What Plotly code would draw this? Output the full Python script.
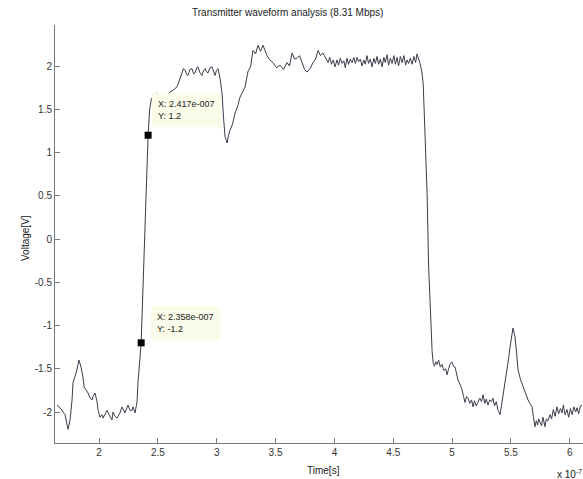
import plotly.graph_objects as go

# Time in units of 1e-7 s, voltage in V
t = [1.643, 1.669, 1.694, 1.711, 1.737, 1.754, 1.771, 1.779, 1.805, 1.822, 1.830, 1.847, 1.864, 1.873,
     1.890, 1.907, 1.924, 1.941, 1.949, 1.966, 1.983, 1.992, 2.008, 2.025, 2.034, 2.051, 2.068, 2.085,
     2.110, 2.119, 2.136, 2.153, 2.178, 2.195, 2.221, 2.246, 2.263, 2.280, 2.289, 2.306, 2.323, 2.331,
     2.358, 2.417, 2.430, 2.445, 2.470, 2.493, 2.515, 2.540, 2.560, 2.578, 2.603, 2.629, 2.663, 2.688,
     2.705, 2.718, 2.731, 2.745, 2.756, 2.772, 2.790, 2.803, 2.816, 2.830, 2.841, 2.858, 2.875, 2.888,
     2.901, 2.914, 2.926, 2.943, 2.960, 2.973, 2.986, 2.998, 3.011, 3.028, 3.045, 3.058, 3.071, 3.080,
     3.088, 3.100, 3.113, 3.135, 3.155, 3.175, 3.198, 3.220, 3.240, 3.266, 3.288, 3.308, 3.330, 3.351,
     3.372, 3.393, 3.410, 3.427, 3.452, 3.478, 3.508, 3.538, 3.568, 3.597, 3.618, 3.640, 3.662, 3.682,
     3.704, 3.725, 3.746, 3.767, 3.793, 3.818, 3.840, 3.861, 3.882, 3.903, 3.925, 3.946, 3.960, 3.975,
     3.990, 4.005, 4.022, 4.035, 4.050, 4.065, 4.080, 4.092, 4.107, 4.120, 4.135, 4.150, 4.165, 4.178,
     4.192, 4.205, 4.220, 4.235, 4.250, 4.262, 4.277, 4.290, 4.305, 4.320, 4.335, 4.348, 4.362, 4.375,
     4.390, 4.405, 4.420, 4.432, 4.447, 4.460, 4.475, 4.490, 4.505, 4.518, 4.532, 4.545, 4.560, 4.575,
     4.590, 4.605, 4.617, 4.630, 4.645, 4.660, 4.675, 4.690, 4.702, 4.716, 4.728, 4.742, 4.754, 4.770,
     4.788, 4.800, 4.813, 4.822, 4.830, 4.839, 4.850, 4.862, 4.872, 4.885, 4.900, 4.914, 4.930, 4.945,
     4.957, 4.970, 4.985, 4.999, 5.012, 5.025, 5.040, 5.050, 5.067, 5.084, 5.097, 5.110, 5.122, 5.135,
     5.150, 5.165, 5.178, 5.190, 5.205, 5.220, 5.235, 5.250, 5.263, 5.278, 5.290, 5.305, 5.320, 5.335,
     5.347, 5.360, 5.375, 5.390, 5.407, 5.420, 5.432, 5.450, 5.466, 5.480, 5.492, 5.505, 5.517, 5.525,
     5.534, 5.548, 5.560, 5.580, 5.602, 5.620, 5.645, 5.660, 5.679, 5.690, 5.704, 5.715, 5.727, 5.735,
     5.747, 5.760, 5.772, 5.789, 5.800, 5.815, 5.832, 5.845, 5.860, 5.875, 5.891, 5.905, 5.920, 5.934,
     5.945, 5.960, 5.976, 5.990, 6.005, 6.019, 6.035, 6.050, 6.061, 6.075, 6.090, 6.104]
v = [-1.92, -1.95, -2.00, -2.03, -2.20, -2.09, -1.86, -1.66, -1.55, -1.46, -1.40, -1.48, -1.60, -1.71,
     -1.75, -1.78, -1.84, -1.86, -1.82, -1.78, -1.88, -1.98, -2.06, -2.03, -2.07, -2.02, -1.98, -2.03,
     -2.09, -2.00, -2.05, -2.07, -2.01, -1.94, -2.01, -1.92, -1.98, -1.98, -1.94, -2.01, -1.88, -1.66,
     -1.20, 1.20, 1.50, 1.62, 1.66, 1.69, 1.64, 1.68, 1.66, 1.67, 1.70, 1.72, 1.76, 1.86,
     1.93, 1.97, 1.95, 1.90, 1.89, 1.96, 1.97, 1.91, 1.92, 1.98, 1.99, 1.92, 1.89, 1.95,
     1.97, 1.93, 1.92, 1.98, 1.99, 1.93, 1.89, 1.95, 1.97, 1.86, 1.69, 1.40, 1.18, 1.15,
     1.11, 1.20, 1.26, 1.33, 1.455, 1.52, 1.64, 1.70, 1.755, 1.94, 1.99, 2.18, 2.14, 2.24,
     2.17, 2.24, 2.19, 2.12, 2.07, 2.04, 1.98, 2.01, 1.96, 2.04, 2.00, 2.15, 2.08, 2.09,
     2.12, 2.03, 1.96, 1.93, 1.97, 2.04, 2.08, 2.18, 2.12, 2.15, 2.09, 2.04, 2.10, 2.02,
     2.07, 1.99, 2.07, 2.01, 2.09, 2.03, 2.06, 1.98, 2.09, 2.02, 2.08, 2.04, 2.10, 2.03,
     2.10, 2.05, 2.08, 2.00, 2.07, 2.02, 2.12, 2.03, 2.08, 1.99, 2.09, 2.03, 2.11, 2.02,
     2.08, 1.99, 2.10, 2.04, 2.13, 2.01, 2.09, 2.03, 2.12, 2.02, 2.10, 2.00, 2.11, 2.04,
     2.12, 2.01, 2.07, 2.03, 2.09, 2.02, 2.11, 2.04, 2.14, 2.08, 2.03, 1.94, 1.80, 1.20,
     0.50, -0.30, -0.80, -1.15, -1.30, -1.43, -1.47, -1.42, -1.45, -1.40, -1.48, -1.45, -1.52, -1.50,
     -1.57, -1.50, -1.44, -1.42, -1.47, -1.48, -1.58, -1.63, -1.68, -1.74, -1.82, -1.89, -1.82, -1.84,
     -1.90, -1.86, -1.94, -1.87, -1.93, -1.89, -1.84, -1.88, -1.80, -1.90, -1.85, -1.92, -1.86, -1.88,
     -1.84, -1.93, -1.88, -1.98, -2.03, -1.92, -1.82, -1.68, -1.55, -1.38, -1.25, -1.10, -1.03, -1.08,
     -1.13, -1.32, -1.51, -1.62, -1.71, -1.76, -1.86, -1.90, -1.94, -2.05, -2.17, -2.10, -2.15, -2.08,
     -2.12, -2.16, -2.06, -2.17, -2.08, -2.10, -2.03, -2.08, -1.97, -2.05, -1.94, -2.02, -1.96, -2.01,
     -1.92, -2.03, -1.97, -2.06, -1.96, -2.03, -1.94, -2.00, -1.95, -2.02, -1.93, -1.92]

tip_t = [2.417, 2.358]
tip_v = [1.2, -1.2]
tip_labels = ["X: 2.417e-007<br>Y: 1.2", "X: 2.358e-007<br>Y: -1.2"]

x_ticks = [2, 2.5, 3, 3.5, 4, 4.5, 5, 5.5, 6]
x_ticktext = ["2", "2.5", "3", "3.5", "4", "4.5", "5", "5.5", "6"]
y_ticks = [-2, -1.5, -1, -0.5, 0, 0.5, 1, 1.5, 2]
y_ticktext = ["-2", "-1.5", "-1", "-0.5", "0", "0.5", "1", "1.5", "2"]

FONT = "Arial, Liberation Sans, sans-serif"

fig = go.Figure()
fig.add_trace(go.Scatter(x=t, y=v, mode="lines",
                         line=dict(color="#3c3c4c", width=1), showlegend=False))
fig.add_trace(go.Scatter(x=tip_t, y=tip_v, mode="markers",
                         marker=dict(symbol="square", size=7, color="black"), showlegend=False))

shifts = [(4, 25), (10, 20)]
for xx, yy, txt, (dx, dy) in zip(tip_t, tip_v, tip_labels, shifts):
    fig.add_annotation(x=xx, y=yy, text=txt, showarrow=False, xanchor="left", yanchor="middle",
                       xshift=dx, yshift=dy, align="left",
                       font=dict(family=FONT, size=9, color="#222"),
                       bgcolor="#fbfbea", bordercolor="#fbfbea", borderpad=5)

fig.add_annotation(text="Transmitter waveform analysis (8.31 Mbps)", xref="paper", yref="paper",
                   x=0.44, y=1.0, yshift=13, showarrow=False, xanchor="center", yanchor="middle",
                   font=dict(family=FONT, size=10, color="#222"))
fig.add_annotation(text="Time[s]", xref="paper", yref="paper", x=(323 - 55) / 528, y=0,
                   yshift=-27, showarrow=False, xanchor="center", yanchor="middle",
                   font=dict(family=FONT, size=10, color="#222"))
fig.add_annotation(text="x 10<sup>-7</sup>", xref="paper", yref="paper", x=1, xshift=-28, y=0,
                   yshift=-31, showarrow=False, xanchor="left", yanchor="middle",
                   font=dict(family=FONT, size=10, color="#222"))
fig.add_annotation(text="Voltage[V]", xref="paper", yref="paper", x=0, xshift=-30, y=(443 - 238) / 418,
                   showarrow=False, textangle=-90, xanchor="center", yanchor="middle",
                   font=dict(family=FONT, size=10, color="#222"))

fig.update_layout(
    width=583, height=479,
    margin=dict(l=55, r=0, t=25, b=36),
    paper_bgcolor="white", plot_bgcolor="white",
    xaxis=dict(range=[1.626, 6.112], tickvals=x_ticks, ticktext=x_ticktext, showgrid=False,
               zeroline=False, showline=True, linecolor="#777", linewidth=1, ticks="inside",
               ticklen=5, tickcolor="#777", tickfont=dict(family=FONT, size=10, color="#333")),
    yaxis=dict(range=[-2.358, 2.474], tickvals=y_ticks, ticktext=y_ticktext, showgrid=False,
               zeroline=False, showline=True, linecolor="#777", linewidth=1, ticks="inside",
               ticklen=5, tickcolor="#777", tickfont=dict(family=FONT, size=10, color="#333")),
)

fig.write_html("out.html")
